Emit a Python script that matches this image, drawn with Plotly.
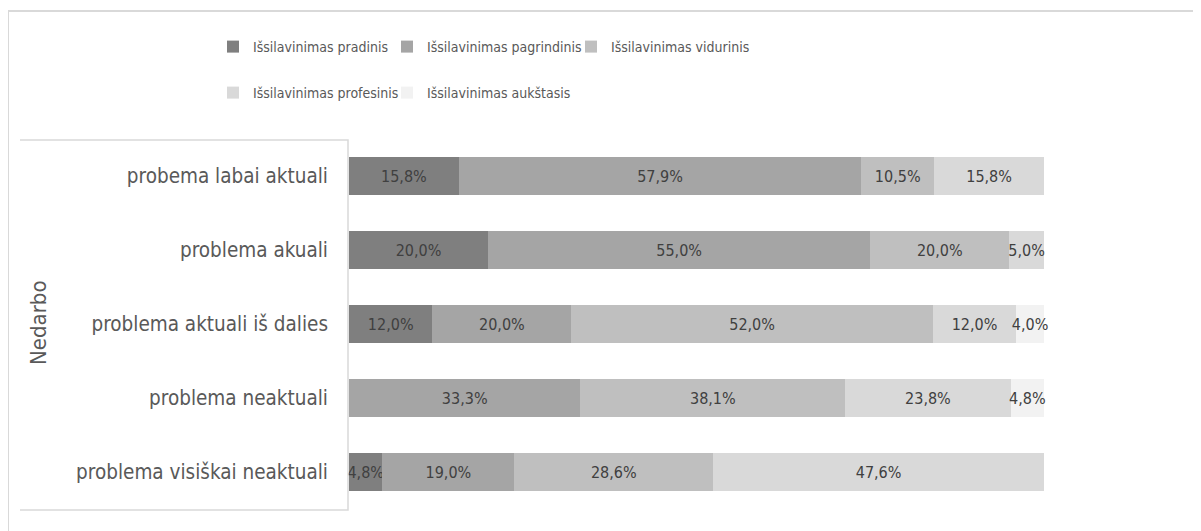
import plotly.graph_objects as go

W, H = 1201, 531

categories = [
    "probema labai aktuali",
    "problema akuali",
    "problema aktuali iš dalies",
    "problema neaktuali",
    "problema visiškai neaktuali",
]
series_names = [
    "Išsilavinimas pradinis",
    "Išsilavinimas pagrindinis",
    "Išsilavinimas vidurinis",
    "Išsilavinimas profesinis",
    "Išsilavinimas aukštasis",
]
pradinis = [15.8, 20.0, 12.0, 0.0, 4.8]
pagrindinis = [57.9, 55.0, 20.0, 33.3, 19.0]
vidurinis = [10.5, 20.0, 52.0, 38.1, 28.6]
profesinis = [15.8, 5.0, 12.0, 23.8, 47.6]
aukstasis = [0.0, 0.0, 4.0, 4.8, 0.0]
group_label = "Nedarbo"

series_values = [pradinis, pagrindinis, vidurinis, profesinis, aukstasis]
colors = ["#7f7f7f", "#a5a5a5", "#bfbfbf", "#d9d9d9", "#f2f2f2"]
legend_ids = ["legend", "legend2", "legend3", "legend4", "legend5"]
# legend text start (screen px) and row centre for each entry
legend_pos = [(253, 47), (427, 47), (611, 47), (253, 93), (427, 93)]

FONT = "Liberation Sans Narrow, Arial Narrow, DejaVu Sans Condensed, sans-serif"

# page body has an 8px margin, so screen coordinates are shifted by 8
OFF = 8

def px(x):
    return (x - OFF) / W

def py(y):
    return 1 - (y - OFF) / H

fig = go.Figure()
for name, vals, col, lg in zip(series_names, series_values, colors, legend_ids):
    texts = [("%.1f%%" % v).replace(".", ",") if v > 0 else "" for v in vals]
    fig.add_trace(go.Bar(
        y=categories, x=vals, name=name, orientation="h",
        marker=dict(color=col, line=dict(width=0)),
        text=texts, textposition="inside", insidetextanchor="middle", textangle=0,
        textfont=dict(family=FONT, size=16, color="#404040"),
        constraintext="none", cliponaxis=False,
        legend=lg, showlegend=True, hoverinfo="skip",
    ))

shapes = [
    dict(type="line", xref="paper", yref="paper", x0=px(8), x1=px(1215), y0=py(11), y1=py(11),
         line=dict(color="#d9d9d9", width=2)),
    dict(type="line", xref="paper", yref="paper", x0=px(8), x1=px(8), y0=py(11), y1=py(545),
         line=dict(color="#d9d9d9", width=2)),
    dict(type="path", xref="paper", yref="paper",
         path=f"M {px(20)},{py(140)} L {px(348)},{py(140)} L {px(348)},{py(510)} L {px(20)},{py(510)}",
         line=dict(color="#d9d9d9", width=1.5)),
]

legends = {}
for lg, (tx, ty) in zip(legend_ids, legend_pos):
    legends[lg] = dict(orientation="h", xanchor="left", yanchor="middle",
                       x=px(tx - 40), y=py(ty), visible=True,
                       entrywidth=200, entrywidthmode="pixels",
                       font=dict(family=FONT, size=14, color="#595959"),
                       bgcolor="rgba(0,0,0,0)", itemclick=False, itemdoubleclick=False)

fig.update_layout(
    width=W, height=H,
    margin=dict(l=0, r=0, t=0, b=0),
    paper_bgcolor="white", plot_bgcolor="white",
    showlegend=True,
    barmode="stack", bargap=0.48,
    font=dict(family=FONT, color="#595959"),
    xaxis=dict(domain=[px(349), px(1044)], range=[0, 100], visible=False, fixedrange=True),
    yaxis=dict(domain=[py(509), py(139)], autorange="reversed", showgrid=False,
               showline=False, zeroline=False, ticks="", ticklabelstandoff=20,
               tickfont=dict(family=FONT, size=20.5, color="#595959")),
    uniformtext=dict(minsize=16, mode="show"),
    shapes=shapes,
    annotations=[dict(text=group_label, xref="paper", yref="paper", x=px(38), y=py(323),
                      textangle=-90, showarrow=False, xanchor="center", yanchor="middle",
                      font=dict(family=FONT, size=22, color="#595959"))],
    **legends,
)

fig.write_html("out.html")
